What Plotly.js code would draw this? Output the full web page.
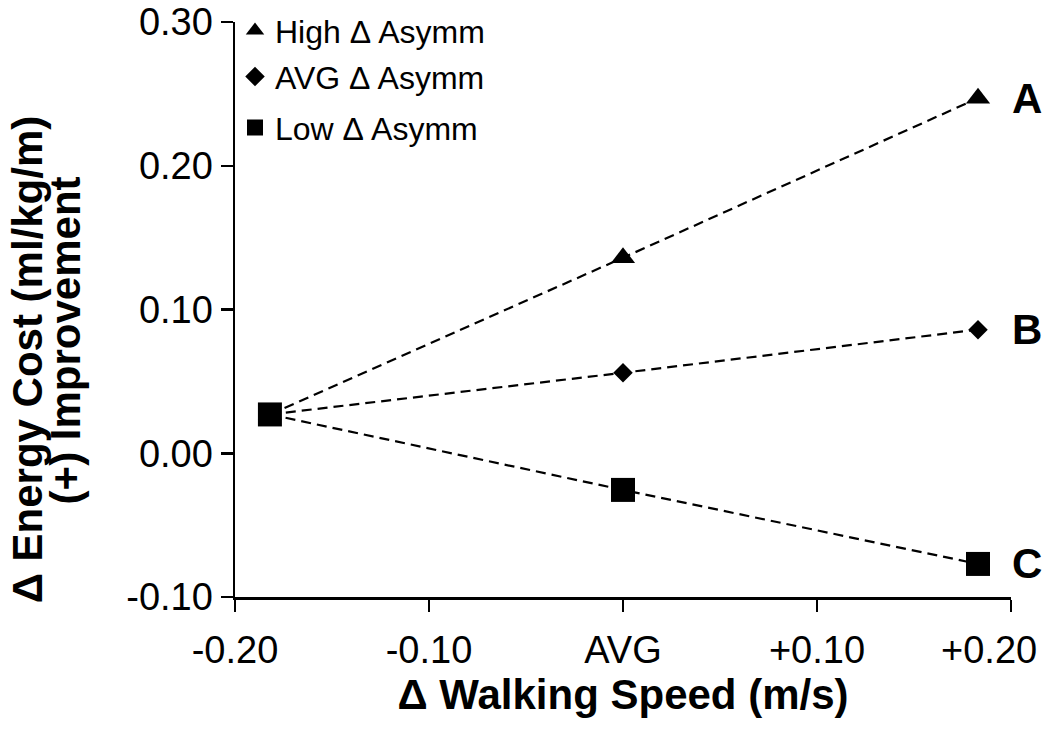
<!DOCTYPE html>
<html>
<head>
<meta charset="utf-8">
<script src="https://cdn.plot.ly/plotly-3.0.1.min.js"></script>
<style>html,body{margin:0;padding:0;background:#fff;}#chart{width:1050px;height:731px;}</style>
</head>
<body>
<div id="chart"></div>
<script>
// Data
const speedDelta = [-0.182, 0.0, 0.183];           // Δ walking speed (m/s)
const highAsymm = [0.027, 0.136, 0.247];           // High Δ Asymm
const avgAsymm  = [0.027, 0.056, 0.086];           // AVG Δ Asymm
const lowAsymm  = [0.027, -0.0255, -0.077];        // Low Δ Asymm
const seriesNames = ['High \u0394 Asymm', 'AVG \u0394 Asymm', 'Low \u0394 Asymm'];
const endLabels = ['A', 'B', 'C'];
const xTickVals = [-0.2, -0.1, 0, 0.1, 0.2];
const xTickText = ['-0.20', '-0.10', 'AVG', '+0.10', '+0.20'];
const yTickVals = [-0.1, 0, 0.1, 0.2, 0.3];
const yTickText = ['-0.10', '0.00', '0.10', '0.20', '0.30'];
const yTitleLines = ['\u0394 Energy Cost (ml/kg/m)', '(+) Improvement'];
const xTitle = '\u0394 Walking Speed (m/s)';

const FONT = 'Liberation Sans, Arial, sans-serif';
const seriesY = [highAsymm, avgAsymm, lowAsymm];
const symbols = ['triangle-up', 'diamond', 'square'];
const sizes = [21, 15, 24];
const legendIds = ['legend', 'legend2', 'legend3'];

const traces = [];
seriesY.forEach((ys) => {
  traces.push({
    x: speedDelta, y: ys, mode: 'lines', showlegend: false, hoverinfo: 'skip',
    line: {color: '#000', width: 2.2, dash: '10px,6px'}
  });
});
seriesY.forEach((ys, i) => {
  traces.push({
    x: speedDelta, y: ys, mode: 'markers', name: seriesNames[i],
    legend: legendIds[i],
    marker: {symbol: symbols[i], size: sizes[i], color: '#000', line: {width: 0}}
  });
});

const lastIdx = xTickVals.length - 1;
// the last x tick label is drawn as an annotation, shifted left to fit in the page (as in the reference)
const shownTickText = xTickText.map((t, i) => i === lastIdx ? '' : t);

const annotations = endLabels.map((t, i) => ({
  x: speedDelta[2], y: seriesY[i][2], xref: 'x', yref: 'y',
  text: '<b>' + t + '</b>', showarrow: false, xshift: 49,
  font: {family: FONT, size: 42, color: '#000'}
}));
annotations.push({
  x: xTickVals[lastIdx], y: 0, xref: 'x', yref: 'paper', xanchor: 'center', yanchor: 'top',
  text: xTickText[lastIdx], showarrow: false, xshift: -22, yshift: -30,
  font: {family: FONT, size: 38, color: '#000'}
});
annotations.push({
  x: -0.267, y: 0.413, xref: 'paper', yref: 'paper', xanchor: 'center', yanchor: 'middle',
  text: '<b>' + yTitleLines[0] + '</b>', textangle: -90, showarrow: false,
  font: {family: FONT, size: 42, color: '#000'}
});
annotations.push({
  x: -0.218, y: 0.446, xref: 'paper', yref: 'paper', xanchor: 'center', yanchor: 'middle',
  text: '<b>' + yTitleLines[1] + '</b>', textangle: -90, showarrow: false,
  font: {family: FONT, size: 42, color: '#000'}
});

const legendBase = {
  x: 0.0, xanchor: 'left', yanchor: 'middle', bgcolor: 'rgba(0,0,0,0)',
  font: {family: FONT, size: 32, color: '#000'}, itemwidth: 30
};

const layout = {
  width: 1050, height: 731,
  margin: {l: 235, r: 39, t: 22, b: 134, pad: 0, autoexpand: false},
  paper_bgcolor: '#fff', plot_bgcolor: '#fff',
  font: {family: FONT, color: '#000'},
  xaxis: {
    range: [-0.2, 0.2], tickvals: xTickVals, ticktext: shownTickText,
    showgrid: false, zeroline: false, showline: true, linecolor: '#000', linewidth: 2.5,
    ticks: 'outside', ticklen: 12, tickwidth: 2.5, tickcolor: '#000', ticklabelstandoff: 6,
    tickfont: {family: FONT, size: 38, color: '#000'}, automargin: false, ticklabeloverflow: 'allow',
    title: {text: '<b>' + xTitle + '</b>', font: {family: FONT, size: 42, color: '#000'}, standoff: 6}
  },
  yaxis: {
    range: [-0.1, 0.3], tickvals: yTickVals, ticktext: yTickText,
    showgrid: false, zeroline: false, showline: true, linecolor: '#000', linewidth: 2.5,
    ticks: 'outside', ticklen: 12, tickwidth: 2.5, tickcolor: '#000', automargin: false,
    ticklabeloverflow: 'allow',
    tickfont: {family: FONT, size: 38, color: '#000'}
  },
  legend: Object.assign({}, legendBase, {y: 0.985}),
  legend2: Object.assign({}, legendBase, {y: 0.905}),
  legend3: Object.assign({}, legendBase, {y: 0.816}),
  annotations: annotations
};

Plotly.newPlot('chart', traces, layout, {displayModeBar: false, staticPlot: true});
</script>
</body>
</html>
